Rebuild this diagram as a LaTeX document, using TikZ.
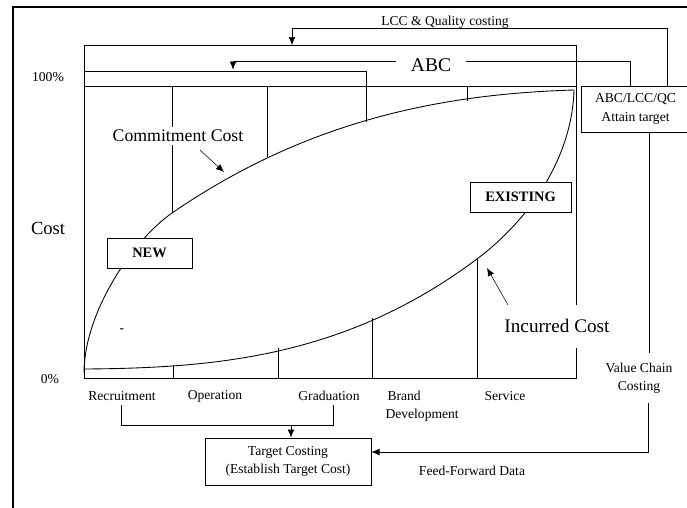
\documentclass[tikz,border=0pt]{standalone}
\usepackage{fontspec}
\setmainfont{Liberation Serif}
\usetikzlibrary{arrows.meta,backgrounds}
\begin{document}
\begin{tikzpicture}[x=0.75pt,y=-0.75pt,line width=0.75pt,
  lbl/.style={font=\fontsize{10.2}{13.5}\selectfont,inner sep=0pt,align=center},
  bigl/.style={font=\fontsize{#1}{#1}\selectfont,inner sep=1pt},
  boxed/.style={draw,fill=white,inner sep=0pt,align=center},
  bold/.style={font=\fontsize{10.8}{12}\selectfont\bfseries},
  tip/.style={-{Latex[length=6pt,width=5pt]}},
  curve/.style={line width=0.65pt}]
\useasboundingbox (0,0) rectangle (687,508);

% ---------- nodes ----------
\node[lbl] (lcc) at (445,22) {LCC \& Quality costing};
\node[bigl=14.6,fill=white,inner xsep=11pt] (abc) at (431,65) {ABC};
\node[lbl] (p100) at (48,77) {100\%};
\node[lbl] (p0) at (50,379) {0\%};
\node[bigl=13.9] (cost) at (48,228) {Cost};
\node[boxed,font=\fontsize{10.2}{14.25}\selectfont,minimum width=81.75pt,minimum height=34.5pt] (abcq) at (635.5,109) {ABC/LCC/QC\\Attain target};
\node[bigl=13.3,fill=white,inner ysep=2pt] (comm) at (178,136) {Commitment Cost};
\node[bigl=14.4,fill=white,minimum height=32pt,inner xsep=2pt] (inc) at (557,326) {Incurred Cost};
\node[lbl] (vcc) at (639,378) {Value Chain\\Costing};
\node[lbl] (ffd) at (472,471) {Feed-Forward Data};
\node[lbl] (rec) at (122,396) {Recruitment};
\node[lbl] (ope) at (215,396) {Operation};
\node[lbl] (gra) at (329,396) {Graduation};
\node[lbl,align=left,anchor=north west] (bra) at (385,390.5) {\hspace*{1.5pt}Brand\\Development};
\node[lbl] (ser) at (505,396) {Service};
\node[lbl] (dash) at (122,331) {-};
\node[boxed,font=\fontsize{10.2}{13.5}\selectfont,minimum width=124.5pt,minimum height=35.25pt] (target) at (288,461.5) {Target Costing\\(Establish Target Cost)};

% ---------- coordinates ----------
\coordinate (lccA) at (667,28);
\coordinate (lccB) at (292,28);
\coordinate (lccT) at (292,45);
\coordinate (abcA) at (630,61);
\coordinate (abcB) at (233,61);
\coordinate (abcT) at (233,69.5);
\coordinate (vcA) at (649,132);
\coordinate (vcB) at (649,353);
\coordinate (ffA) at (648,403);
\coordinate (ffB) at (648,452);
\coordinate (brL) at (121,405);
\coordinate (brLb) at (121,425);
\coordinate (brR) at (333,425);
\coordinate (brRt) at (333,405);
\coordinate (brM) at (291,425);
\coordinate (commS) at (200,150);
\coordinate (commT) at (224,172);
\coordinate (incS) at (508,305);
\coordinate (incT) at (487,268);

\begin{pgfonlayer}{background}
% frame
\draw[line width=1pt] (13,508) -- (13,7) -- (687,7);
% chart outline
\draw (84,378) -- (84,45) -- (576,45) -- (576,305);
\draw (576,348) -- (576,378) -- (84,378);
\draw (84,71) -- (366,71) -- (366,122);
\draw (84,86) -- (576,86);
% verticals top
\draw (172,86) -- (172,213);
\draw (267,86) -- (267,157);
\draw (467,86) -- (467,101);
% verticals bottom
\draw (173,378) -- (173,365);
\draw (278,378) -- (278,348);
\draw (372,378) -- (372,318);
\draw (477,378) -- (477,259);
% curves
\draw[curve] (84,373) .. controls (84,313) and (132,241) .. (172,213)
             .. controls (306,121) and (440,94) .. (574,90);
\draw[curve] (85,369) .. controls (216,368) and (346,357) .. (477,259)
             .. controls (527,221.5) and (572,160) .. (574,90);
% connectors
\draw[tip] (abcq.north -| lccA) -- (lccA) -- (lccB) -- (lccT);
\draw[tip] (abcq.north -| abcA) -- (abcA) -- (abcB) -- (abcT);
\draw (abcq.south -| vcA) -- (vcB);
\draw[tip] (ffA) -- (ffB) -- (target.east |- ffB);
\draw (brL) -- (brLb) -- (brR) -- (brRt);
\draw[tip] (brM) -- (target.north -| brM);
\draw[tip] (commS) -- (commT);
\draw[tip] (incS) -- (incT);
\end{pgfonlayer}

\node[boxed,bold,minimum width=63.75pt,minimum height=22.5pt] (new) at (149.5,253) {NEW};
\node[boxed,bold,minimum width=75.75pt,minimum height=22.5pt] (exist) at (520.5,197) {EXISTING};
\end{tikzpicture}
\end{document}
